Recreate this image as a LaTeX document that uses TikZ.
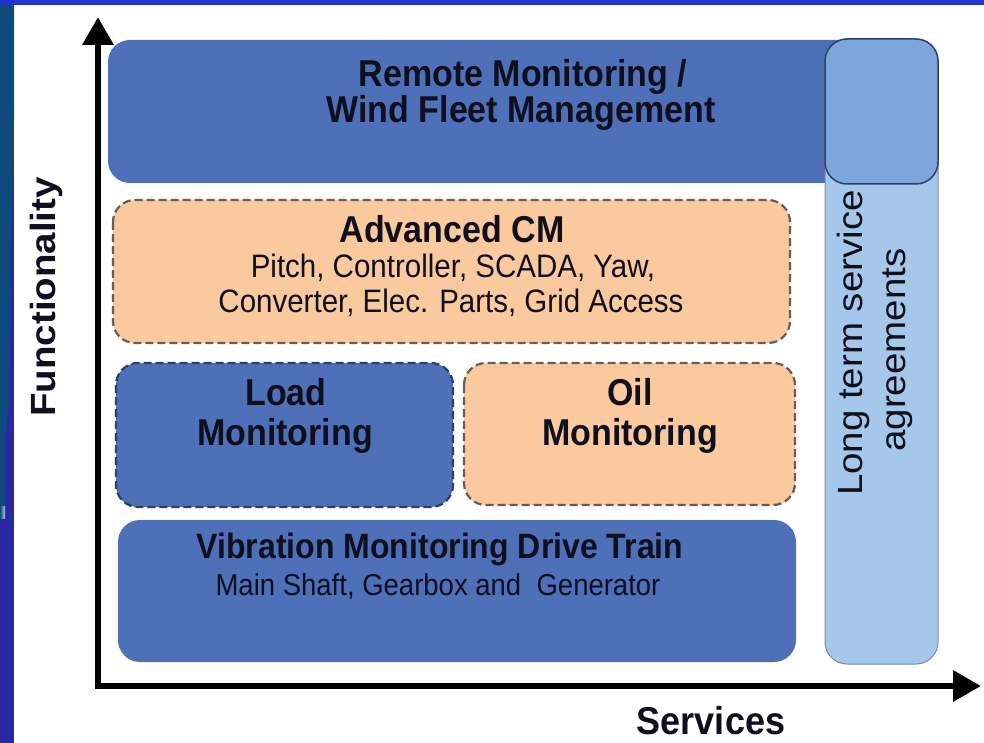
\documentclass[tikz,border=0pt]{standalone}
\usepackage{fontspec}
\setmainfont{Liberation Sans}
\usetikzlibrary{arrows.meta}
\definecolor{boxblue}{RGB}{78,112,185}
\definecolor{peach}{RGB}{250,202,158}
\definecolor{peachline}{RGB}{105,92,88}
\definecolor{blueline}{RGB}{46,62,102}
\definecolor{ltblue}{RGB}{165,200,234}
\definecolor{ltline}{RGB}{120,135,160}
\definecolor{midblue}{RGB}{124,166,220}
\definecolor{txt}{RGB}{15,15,30}
\definecolor{topstrip}{RGB}{30,52,205}
\definecolor{leftstrip}{RGB}{40,40,165}
\definecolor{teal}{RGB}{14,74,124}
\begin{document}
\begin{tikzpicture}[x=1pt,y=-1pt,
  ttl/.style={font=\bfseries\fontsize{34}{34}\selectfont, text=txt, inner sep=0pt, anchor=base, yscale=1.1},
  vibttl/.style={ttl, font=\bfseries\fontsize{32}{32}\selectfont},
  sub/.style={font=\fontsize{29.5}{30}\selectfont, text=txt, inner sep=0pt, anchor=base, yscale=1.1},
  subsmall/.style={sub, font=\fontsize{27.5}{28}\selectfont},
  vtxt/.style={font=\fontsize{35}{35}\selectfont, text=txt, inner sep=0pt, anchor=base, rotate=90, xscale=1.1},
  vbold/.style={vtxt, font=\bfseries\fontsize{35}{35}\selectfont},
  solidbox/.style={fill=boxblue, rounded corners=22pt},
  dashbox/.style={line width=2.2pt, dash pattern=on 8pt off 4pt, rounded corners=22pt},
  axis/.style={line width=6.5pt, draw=black, {Triangle[length=28pt,width=30pt]}-{Triangle[length=28pt,width=30pt]}}
]
\useasboundingbox (0,0) rectangle (984,743);
\fill[white] (0,0) rectangle (984,743);
% frame strips
\fill[leftstrip] (0,0) rectangle (14,743);
\fill[teal] (0,5) -- (14,5) -- (14,120) -- (11,260) -- (9,400) -- (5,440) -- (5,506) -- (0,506) -- cycle;
\fill[left color=teal, right color=white!70!teal] (0,506) rectangle (5,518);
\fill[topstrip] (0,0) rectangle (984,5);
% boxes
\path[solidbox] (108,40) rectangle (880,183);
\filldraw[fill=ltblue, draw=ltline, line width=1pt, rounded corners=22pt] (825,39) rectangle (938,664);
\filldraw[fill=midblue, draw=blueline, line width=1.5pt, rounded corners=22pt] (825,39) rectangle (938,184);
\filldraw[dashbox, fill=peach, draw=peachline] (113,200) rectangle (790,343);
\filldraw[dashbox, fill=boxblue, draw=blueline] (116,363) rectangle (453,507);
\filldraw[dashbox, fill=peach, draw=peachline] (464,363) rectangle (795,505);
\path[solidbox] (118,520) rectangle (796,662);
% axes
\coordinate (ytip) at (98,17);
\coordinate (origin) at (98,686);
\coordinate (xtip) at (981,686);
\draw[axis] (ytip) -- (origin) -- (xtip);
% texts
\node[ttl] (rm1) at (523,87) {Remote Monitoring /};
\node[ttl] (rm2) at (521,123) {Wind Fleet Management};
\node[ttl] (acm) at (452,242) {Advanced CM};
\node[sub] (acm1) at (453,277) {Pitch, Controller, SCADA, Yaw,};
\node[sub] (acm2) at (451,312) {Converter, Elec. Parts, Grid Access};
\node[ttl] (load1) at (286,405) {Load};
\node[ttl] (load2) at (285,445) {Monitoring};
\node[ttl] (oil1) at (630,405) {Oil};
\node[ttl] (oil2) at (630,445) {Monitoring};
\node[vibttl] (vib1) at (440,558) {Vibration Monitoring Drive Train};
\node[subsmall] (vib2) at (438,595) {Main Shaft, Gearbox and\ \ Generator};
\node[vtxt] (lt1) at (862,343) {Long term service};
\node[vtxt] (lt2) at (905,350) {agreements};
\node[vbold] (func) at (55,297) {Functionality};
\node[ttl, font=\bfseries\fontsize{36}{36}\selectfont, yscale=0.98] (serv) at (711,734) {Services};
\end{tikzpicture}
\end{document}
